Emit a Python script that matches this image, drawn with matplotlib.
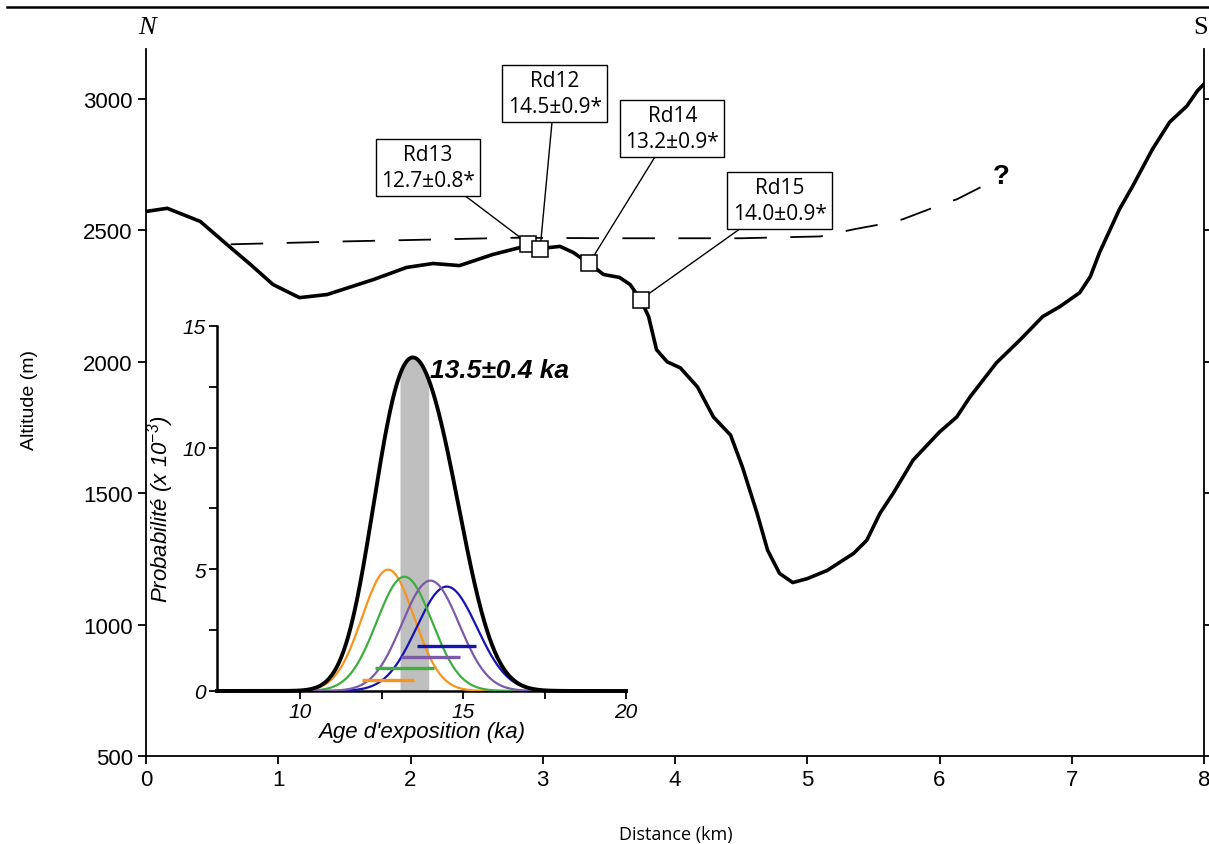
import numpy as np
import matplotlib.pyplot as plt

# profil topographique (distance en km, altitude en m)
dist_km = [0.0, 0.16, 0.41, 0.61, 0.79, 0.96, 1.16, 1.37, 1.72, 1.97, 2.17, 2.37,
           2.62, 2.83, 2.89, 2.98, 3.13, 3.23, 3.35, 3.46, 3.58, 3.66, 3.74, 3.80,
           3.86, 3.94, 4.04, 4.17, 4.29, 4.42, 4.51, 4.62, 4.70, 4.79, 4.89, 5.00,
           5.15, 5.35, 5.45, 5.55, 5.65, 5.80, 6.00, 6.13, 6.23, 6.43, 6.61, 6.78,
           6.91, 7.06, 7.14, 7.21, 7.36, 7.46, 7.61, 7.74, 7.87, 7.95, 8.0]
alt_m = [2572, 2584, 2534, 2447, 2370, 2294, 2244, 2256, 2313, 2359, 2374, 2366,
         2408, 2435, 2450, 2431, 2439, 2416, 2374, 2332, 2321, 2294, 2237, 2172,
         2046, 2000, 1977, 1904, 1790, 1721, 1599, 1424, 1283, 1195, 1160, 1175,
         1206, 1271, 1321, 1424, 1500, 1626, 1733, 1790, 1866, 1996, 2084, 2172,
         2210, 2263, 2324, 2416, 2580, 2668, 2809, 2912, 2973, 3031, 3057]

# ancienne surface glaciaire (tirets)
glace_km = [0.64, 1.5, 2.8, 3.5, 4.5, 5.1, 5.35, 5.63, 5.72, 6.06, 6.13, 6.31]
glace_m = [2447, 2458, 2472, 2470, 2470, 2477, 2504, 2530, 2542, 2607, 2618, 2664]

# echantillons
noms = ["Rd13", "Rd12", "Rd14", "Rd15"]
ech_km = [2.89, 2.98, 3.35, 3.74]
ech_m = [2450, 2431, 2374, 2237]
ages = [12.7, 14.5, 13.2, 14.0]
erreurs = [0.8, 0.9, 0.9, 0.9]
boite_km = [2.13, 3.09, 3.98, 4.79]
boite_m = [2739, 3021, 2887, 2613]

# densites de probabilite (largeur)
sigma_courbe = [0.80, 0.93, 0.85, 0.88]
barre_y = [0.45, 1.85, 0.95, 1.4]
couleurs = ["#F7941D", "#1414B4", "#3FAE3F", "#7D5AA5"]

age_moyen = "13.5±0.4 ka"
bande = [13.05, 13.95]

plt.rcParams["mathtext.fontset"] = "custom"
plt.rcParams["mathtext.rm"] = "Liberation Sans:italic"
plt.rcParams["mathtext.it"] = "Liberation Sans:italic"

fig = plt.figure(figsize=(12.09, 8.45), dpi=100)

# trait en haut de la figure
fig.add_artist(plt.Line2D([0.006, 1.0], [0.9905, 0.9905], color="black", lw=1.8))

ax = fig.add_axes([0.1208, 0.1041, 0.8751, 0.8367])
ax.plot(dist_km, alt_m, color="black", lw=2.6, zorder=3, solid_joinstyle="round")
ax.plot(glace_km, glace_m, color="black", lw=1.3, dashes=(18, 13), zorder=2)
ax.text(6.47, 2706, "?", fontsize=20, fontweight="bold", ha="center", va="center",
        family="Liberation Sans")

for i in range(len(noms)):
    ax.annotate(f"{noms[i]}\n{ages[i]:.1f}±{erreurs[i]:.1f}*",
                xy=(ech_km[i], ech_m[i]), xytext=(boite_km[i], boite_m[i]),
                ha="center", va="center", fontsize=15, family="Open Sans",
                linespacing=1.3,
                bbox=dict(boxstyle="square,pad=0.25", fc="white", ec="black", lw=1),
                arrowprops=dict(arrowstyle="-", color="black", lw=1,
                                shrinkA=0, shrinkB=0), zorder=4)
ax.plot(ech_km, ech_m, "s", ms=12, mfc="white", mec="black", mew=1.1, zorder=5)

ax.set_xlim(0, 8)
ax.set_ylim(500, 3190)
ax.set_xticks(range(0, 9))
ax.set_yticks([500, 1000, 1500, 2000, 2500, 3000])
ax.spines["top"].set_visible(False)
for s in ["left", "right", "bottom"]:
    ax.spines[s].set_linewidth(1.3)
ax.tick_params(direction="out", length=6, width=1.3, labelsize=16, right=True,
               labelright=False)
for lab in ax.get_xticklabels() + ax.get_yticklabels():
    lab.set_family("Liberation Sans")

fig.text(676 / 1209, 1 - 835 / 845, "Distance (km)", ha="center", va="center",
         fontsize=13, family="Open Sans")
fig.text(30 / 1209, 1 - 400 / 845, "Altitude (m)", ha="center", va="center",
         rotation=90, fontsize=14, family="Liberation Sans")
fig.text(147 / 1209, 1 - 28 / 845, "N", ha="center", va="center", fontsize=19,
         family="Liberation Serif", style="italic")
fig.text(1208 / 1209, 1 - 28 / 845, "S", ha="right", va="center", fontsize=19,
         family="Liberation Serif")

# encart : probabilites
ins = fig.add_axes([0.1795, 0.1811, 0.3383, 0.4320], facecolor="none")
xs = np.linspace(7.45, 20, 600)
somme = np.zeros_like(xs)
for i in range(len(noms)):
    dens = 10 / (sigma_courbe[i] * np.sqrt(2 * np.pi)) * np.exp(-0.5 * ((xs - ages[i]) / sigma_courbe[i]) ** 2)
    somme += dens
    ins.plot(xs, dens, color=couleurs[i], lw=1.6, zorder=3)
    ins.plot([ages[i] - erreurs[i], ages[i] + erreurs[i]], [barre_y[i], barre_y[i]],
             color=couleurs[i], lw=2.4, solid_capstyle="butt", zorder=4)
dans = (xs >= bande[0]) & (xs <= bande[1])
ins.fill_between(xs, 0, somme, where=dans, color="#BFBFBF", lw=0, zorder=1)
ins.plot(xs, somme, color="black", lw=2.8, zorder=5, clip_on=False)
ins.text(14.0, 13.2, age_moyen, fontsize=19, fontweight="bold", style="italic",
         ha="left", va="center", family="Liberation Sans")

ins.set_xlim(7.45, 20)
ins.set_ylim(0, 15)
ins.set_xticks([10, 15, 20])
ins.set_xticks([12.5, 17.5], minor=True)
ins.set_yticks([0, 5, 10, 15])
ins.set_yticks([2.5, 7.5, 12.5], minor=True)
ins.spines["top"].set_visible(False)
ins.spines["right"].set_visible(False)
ins.spines["left"].set_linewidth(1.8)
ins.spines["bottom"].set_linewidth(1.8)
ins.tick_params(which="both", direction="out", length=6, width=1.3, labelsize=15, pad=2)
for lab in ins.get_xticklabels() + ins.get_yticklabels():
    lab.set_family("Liberation Sans")
    lab.set_style("italic")
ins.set_xlabel("Age d'exposition (ka)", fontsize=16, style="italic",
               family="Liberation Sans", labelpad=0)
ins.set_ylabel("Probabilité (x 10$^{-3}$)", fontsize=16, style="italic",
               family="Liberation Sans")
ins.yaxis.set_label_coords(-0.1, 0.5)

fig.savefig("out.png", dpi=100)
